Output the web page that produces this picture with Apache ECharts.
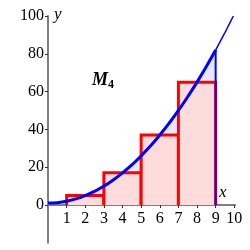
<!DOCTYPE html>
<html><head><meta charset="utf-8">
<script src="https://cdn.jsdelivr.net/npm/echarts@6/dist/echarts.min.js"></script>
<style>html,body{margin:0;padding:0;background:#fff}#c{width:250px;height:250px}</style>
</head><body><div id="c"></div>
<script>
// curve points (thick part 0..9)
const curveThick = [[0,1],[0.5,1.25],[1,2],[1.5,3.25],[2,5],[2.5,7.25],[3,10],[3.5,13.25],[4,17],[4.5,21.25],[5,26],[5.5,31.25],[6,37],[6.5,43.25],[7,50],[7.5,57.25],[8,65],[8.5,73.25],[9,82]];
// thin continuation beyond x=9 up to top of plot
const curveThin = [[9,82],[9.25,86.56],[9.5,91.25],[9.75,96.06],[9.95,100]];
// shaded area under curve from 1 to 9
const areaPts = [[1,2],[1.5,3.25],[2,5],[2.5,7.25],[3,10],[3.5,13.25],[4,17],[4.5,21.25],[5,26],[5.5,31.25],[6,37],[6.5,43.25],[7,50],[7.5,57.25],[8,65],[8.5,73.25],[9,82]];
// midpoint rectangles
const rectLeft = [1,3,5,7];
const rectRight = [3,5,7,9];
const rectHeight = [5,17,37,65];
// vertical boundary at x = 9
const edgeLine = [[9,0],[9,82]];
const xTicks = [1,2,3,4,5,6,7,8,9,10];
const yTicks = [0,20,40,60,80,100];

const font = 'Liberation Serif';
const chart = echarts.init(document.getElementById('c'));
chart.setOption({
  animation:false,
  grid:{left:48, top:16, width:187.2, height:226.8, containLabel:false, outerBoundsMode:'none'},
  xAxis:{type:'value', min:0, max:10.05, position:'bottom', offset:-37.8,
    axisLine:{onZero:false, lineStyle:{color:'#7f7f7f', width:2}},
    axisTick:{customValues:xTicks, length:3, lineStyle:{color:'#333', width:1}},
    axisLabel:{customValues:xTicks, margin:6, color:'#000', fontFamily:font, fontSize:16},
    splitLine:{show:false}},
  yAxis:{type:'value', min:-20, max:100,
    axisLine:{show:true, onZero:true, lineStyle:{color:'#7f7f7f', width:2}},
    axisTick:{show:true, customValues:yTicks, length:3, lineStyle:{color:'#333', width:1}},
    axisLabel:{customValues:yTicks, margin:4, color:'#000', fontFamily:font, fontSize:16},
    splitLine:{show:false}},
  series:[
    {type:'line', data:areaPts, smooth:true, symbol:'none', lineStyle:{width:0},
     areaStyle:{color:'#e6e6ff', opacity:1, origin:0}, z:1},
    {type:'custom', z:2,
     data:rectLeft.map((l,i)=>[l, rectRight[i], rectHeight[i]]),
     renderItem:function(params, api){
       const a = api.coord([api.value(0), api.value(2)]);
       const b = api.coord([api.value(1), 0]);
       return {type:'group', children:[
         {type:'rect', shape:{x:a[0], y:a[1], width:b[0]-a[0], height:b[1]-a[1]}, style:{fill:'#ffdcdc'}},
         {type:'polyline', shape:{points:[[a[0],b[1]],[a[0],a[1]],[b[0],a[1]],[b[0],b[1]]]}, style:{fill:null, stroke:'#ff0000', lineWidth:3}}
       ]};
     }},
    {type:'line', data:curveThick, smooth:true, symbol:'none', lineStyle:{color:'#0000ff', width:3}, z:3},
    {type:'line', data:curveThin, smooth:true, symbol:'none', lineStyle:{color:'#0000ff', width:1.5}, z:3},
    {type:'line', data:edgeLine, symbol:'none', lineStyle:{color:'#0000ff', width:2}, z:4}
  ],
  graphic:[
    {type:'text', left:54, top:6, style:{text:'y', font:'italic 17px "Liberation Serif"', fill:'#000'}},
    {type:'text', left:219, top:184, style:{text:'x', font:'italic 17px "Liberation Serif"', fill:'#000'}},
    {type:'text', left:92, top:71, style:{rich:{
        m:{fontStyle:'italic', fontWeight:'bold', fontSize:18, fontFamily:font, fill:'#000'},
        s:{fontWeight:'bold', fontSize:12, fontFamily:font, fill:'#000', padding:[10,0,0,0]}
      }, text:'{m|M}{s|4}'}}
  ]
});
</script></body></html>
